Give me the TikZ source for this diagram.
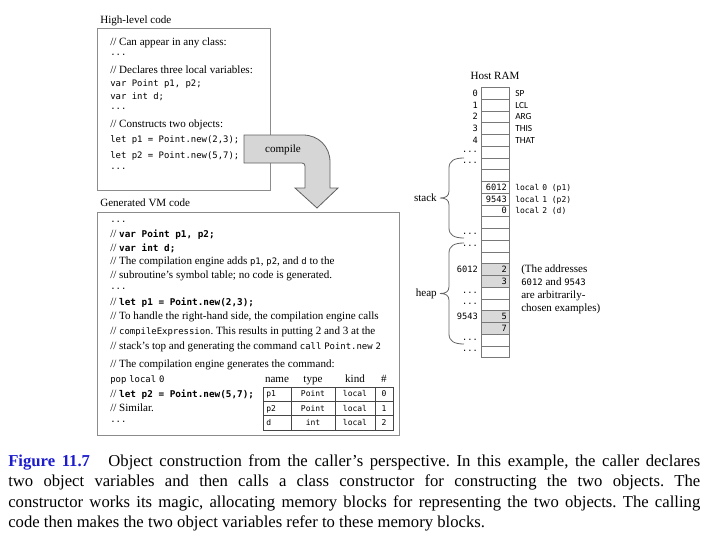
\documentclass[tikz,border=0pt]{standalone}
\usepackage{fontspec}
\setmainfont{Liberation Serif}
\setmonofont{DejaVu Sans Mono}
\newfontfamily\calibfont{Carlito}
\frenchspacing
\definecolor{boxgray}{RGB}{140,140,140}
\definecolor{ramgray}{RGB}{120,120,120}
\definecolor{gridgray}{RGB}{70,70,70}
\definecolor{arrowfill}{RGB}{214,214,214}
\definecolor{arrowdraw}{RGB}{95,95,95}
\definecolor{cellshade}{RGB}{217,217,217}
\definecolor{bracegray}{RGB}{100,100,100}
\definecolor{figblue}{RGB}{28,28,205}
\newcommand\serfont{\fontsize{8.3}{10}\selectfont}
\newcommand\cmono[1]{{\fontsize{6.7}{8}\selectfont\ttfamily #1}}
\newcommand\cbold[1]{{\fontsize{7}{8}\selectfont\ttfamily\bfseries #1}}
\newcommand\codedots{\raisebox{2.2pt}{\cmono{...}}}
\newcommand\ns{\hspace{2.2pt}}
\newcommand\rammono{\fontsize{6.5}{8}\selectfont\ttfamily}
\newcommand\tabmono{\fontsize{6}{8}\selectfont\ttfamily}
\newcommand\capfont{\fontsize{12.5}{15}\selectfont\frenchspacing}
\tikzset{
  codebox/.style={draw=boxgray, line width=0.6pt},
  ln/.style={anchor=base west, inner sep=0pt, font=\serfont},
  hdr/.style={anchor=base, inner sep=0pt, font=\serfont},
  tcell/.style={anchor=base, inner sep=0pt, font=\tabmono},
  tcellw/.style={anchor=base west, inner sep=0pt, font=\tabmono},
  tgrid/.style={draw=gridgray, line width=0.5pt},
  arrowshape/.style={fill=arrowfill, draw=arrowdraw, line width=0.6pt},
  ramcell/.style={draw=ramgray, line width=0.5pt, minimum width=21pt, minimum height=8.8125pt, inner sep=0pt},
  shadecell/.style={ramcell, fill=cellshade},
  addr/.style={anchor=base east, inner sep=0pt, font=\rammono},
  cval/.style={anchor=base east, inner sep=0pt, font=\rammono},
  reglab/.style={anchor=base west, inner sep=0pt, font=\calibfont\fontsize{7}{8}\selectfont},
  loclab/.style={anchor=base west, inner sep=0pt, font=\tabmono},
  bracestyle/.style={draw=bracegray, line width=0.6pt},
  captionline/.style={anchor=base west, inner sep=0pt, font=\capfont},
}
\begin{document}
\begin{tikzpicture}[x=0.75pt,y=-0.75pt]
\useasboundingbox (0,0) rectangle (703,540);

% ---------- High-level code ----------
\node[ln] (hlcap) at (100,23) {High-level code};
\draw[codebox] (97,28) rectangle (270,190);
\node[ln] (h1) at (110,45) {// Can appear in any class:};
\node[ln] (h2) at (110,58.5) {\codedots};
\node[ln] (h3) at (110,73.5) {// Declares three local variables:};
\node[ln] (h4) at (110,86.5) {\cmono{var Point p1, p2;}};
\node[ln] (h5) at (110,99.5) {\cmono{var int d;}};
\node[ln] (h6) at (110,112.5) {\codedots};
\node[ln] (h7) at (110,127.5) {// Constructs two objects:};
\node[ln] (h8) at (110,142) {\cmono{let p1 = Point.new(2,3);}};
\node[ln] (h9) at (110,158.5) {\cmono{let p2 = Point.new(5,7);}};
\node[ln] (h10) at (110,172) {\codedots};

% ---------- compile arrow ----------
\draw[arrowshape] (244,135) -- (303,135) .. controls (318.5,135) and (330,146.5) .. (330,162)
  -- (330,188) -- (338,188) -- (317,208) -- (295,188) -- (305,188) -- (305,166)
  .. controls (305,164.3) and (303.7,163) .. (302,163) -- (244,163) -- cycle;
\node[hdr] (compile) at (283,152.5) {compile};

% ---------- Generated VM code ----------
\node[ln] (vmcap) at (100,206.5) {Generated VM code};
\draw[codebox] (97,212) rectangle (399,435);
\node[ln] (v1) at (110,225.5) {\codedots};
\node[ln] (v2) at (110,237.5) {// \cbold{var Point p1, p2;}};
\node[ln] (v3) at (110,251) {// \cbold{var int d;}};
\node[ln] (v4) at (110,264.5) {// The compilation engine adds \cmono{p1}, \cmono{p2}, and \cmono{d} to the};
\node[ln] (v5) at (110,278.5) {// subroutine's symbol table; no code is generated.};
\node[ln] (v6) at (110,292.5) {\codedots};
\node[ln] (v7) at (110,305.5) {// \cbold{let p1 = Point.new(2,3);}};
\node[ln] (v8) at (110,319.5) {// To handle the right-hand side, the compilation engine calls};
\node[ln] (v9) at (110,334.5) {// \cmono{compileExpression}. This results in putting 2 and 3 at the};
\node[ln] (v10) at (110,349) {// stack's top and generating the command \cmono{call\ns Point.new\ns 2}};
\node[ln] (v11) at (110,367.5) {// The compilation engine generates the command:};
\node[ln] (v12) at (110,382.5) {\cmono{pop\ns local\ns 0}};
\node[ln] (v13) at (110,397) {// \cbold{let p2 = Point.new(5,7);}};
\node[ln] (v14) at (110,411.5) {// Similar.};
\node[ln] (v15) at (110,425.5) {\codedots};

% ---------- symbol table ----------
\node[hdr] (th1) at (277,382.5) {name};
\node[hdr] (th2) at (313,382.5) {type};
\node[hdr] (th3) at (355,382.5) {kind};
\node[hdr] (th4) at (384,382.5) {\#};
\draw[tgrid] (263,387) rectangle (393,430);
\draw[tgrid] (263,401) -- (393,401) (263,415.5) -- (393,415.5);
\draw[tgrid] (291,387) -- (291,430) (335,387) -- (335,430) (375,387) -- (375,430);
\node[tcellw] (t11) at (266,396.5) {p1};
\node[tcell]  (t12) at (313,396.5) {Point};
\node[tcell]  (t13) at (355,396.5) {local};
\node[tcell]  (t14) at (384,396.5) {0};
\node[tcellw] (t21) at (266,411) {p2};
\node[tcell]  (t22) at (313,411) {Point};
\node[tcell]  (t23) at (355,411) {local};
\node[tcell]  (t24) at (384,411) {1};
\node[tcellw] (t31) at (266,425.5) {d};
\node[tcell]  (t32) at (313,425.5) {int};
\node[tcell]  (t33) at (355,425.5) {local};
\node[tcell]  (t34) at (384,425.5) {2};

% ---------- Host RAM ----------
\node[hdr] (ramcap) at (495,79) {Host RAM};
\foreach \i in {1,...,23} {
  \node[ramcell] (r\i) at (495,{87.5+(\i-0.5)*11.75}) {};
}
\foreach \i in {16,17,20,21} {
  \node[shadecell] (s\i) at (r\i) {};
}
% addresses (left)
\foreach \i/\t in {1/0,2/1,3/2,4/3,5/4,16/6012,20/9543} {
  \node[addr] (a\i) at (478,{87.5+(\i-0.5)*11.75+3}) {\t};
}
\foreach \i in {6,7,13,14,18,19,22,23} {
  \node[addr] (d\i) at (478,{87.5+(\i-0.5)*11.75+3}) {\raisebox{2.2pt}{...}};
}
% cell contents
\foreach \i/\t in {9/6012,10/9543,11/0,16/2,17/3,20/5,21/7} {
  \node[cval] (v\i c) at (507,{87.5+(\i-0.5)*11.75+3}) {\t};
}
% labels right
\foreach \i/\t in {1/SP,2/LCL,3/ARG,4/THIS,5/THAT} {
  \node[reglab] (l\i) at (515,{87.5+(\i-0.5)*11.75+3}) {\t};
}
\node[loclab] (l9) at (515,{87.5+8.5*11.75+3}) {local\ns 0 (p1)};
\node[loclab] (l10) at (515,{87.5+9.5*11.75+3}) {local\ns 1 (p2)};
\node[loclab] (l11) at (515,{87.5+10.5*11.75+3}) {local\ns 2 (d)};

% braces
\draw[bracestyle] (464,158) .. controls (454,158) and (449,161) .. (449,168) -- (449,191)
  .. controls (449,196) and (446,198) .. (440,198) .. controls (446,198) and (449,200) .. (449,205)
  -- (449,228) .. controls (449,235) and (454,238) .. (464,238);
\draw[bracestyle] (464,243) .. controls (454,243) and (449,246) .. (449,253) -- (449,286.5)
  .. controls (449,291.5) and (446,293.5) .. (440,293.5) .. controls (446,293.5) and (449,295.5) .. (449,300.5)
  -- (449,334) .. controls (449,341) and (454,344) .. (464,344);
\node[ln, anchor=base east] (stack) at (437,201.5) {stack};
\node[ln, anchor=base east] (heap) at (437,296.5) {heap};

% note
\node[ln] (n1) at (521,272.5) {(The addresses};
\node[ln] (n2) at (521,285.5) {\cmono{6012} and \cmono{9543}};
\node[ln] (n3) at (521,298.5) {are arbitrarily-};
\node[ln] (n4) at (521,311.5) {chosen examples)};

% ---------- caption ----------
\node[captionline] (c1) at (8,466.5) {\hbox to 519pt{\textcolor{figblue}{\textbf{Figure 11.7}}\hspace{1.1em}Object construction from the caller's perspective. In this example, the caller declares}};
\node[captionline] (c2) at (8,486.8) {\hbox to 519pt{two object variables and then calls a class constructor for constructing the two objects. The}};
\node[captionline] (c3) at (8,507.1) {\hbox to 519pt{constructor works its magic, allocating memory blocks for representing the two objects. The calling}};
\node[captionline] (c4) at (8,527.4) {code then makes the two object variables refer to these memory blocks.};
\end{tikzpicture}
\end{document}
